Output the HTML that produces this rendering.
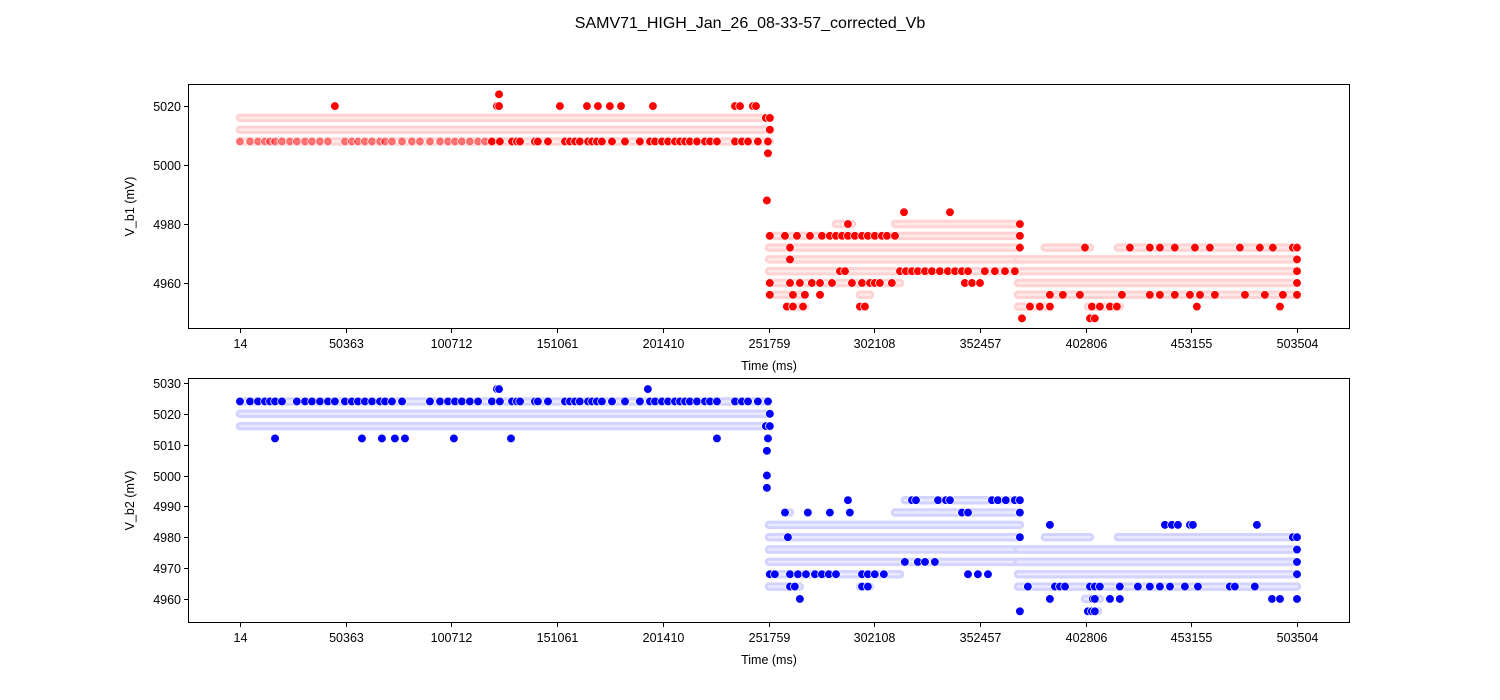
<!DOCTYPE html>
<html><head><meta charset="utf-8">
<style>
body{margin:0;background:#fff;}
svg{display:block;font-family:"Liberation Sans","DejaVu Sans",sans-serif;}
</style></head>
<body>
<svg id="chart" width="1500" height="700" xmlns="http://www.w3.org/2000/svg">
<text x="750" y="28" text-anchor="middle" font-size="16">SAMV71_HIGH_Jan_26_08-33-57_corrected_Vb</text>
</svg>
<script>
// ---- data (time in thousands of ms, voltage in mV) ----
const xTickVals = [14, 50363, 100712, 151061, 201410, 251759, 302108, 352457, 402806, 453155, 503504];
const topYTicks = [4960, 4980, 5000, 5020];
const botYTicks = [4960, 4970, 4980, 4990, 5000, 5010, 5020, 5030];

const redBandLevels = [5016,5012,5008,4980,4980,4976,4972,4968,4964,4960,4956,4956,4952,4952,4972,4972,4968,4964,4960,4956,4952,4952];
const redBandStart  = [0,0,0,283.9,312,252,252,252,252,252,252,295.3,260.5,295.3,383.4,418.2,370.6,370.6,370.6,370.6,370.6,403.9];
const redBandEnd    = [251.5,252.4,252.4,291.5,371.5,371.5,371.5,371.5,371.5,314.4,268.2,300.1,269.1,297.7,404.9,503.5,503.5,503.5,503.5,503.5,385.8,419.1];

const redDotLevels = [5024,5020,5016,5012,5008,5004,4988,4984,4980,4976,4972,4968,4964,4960,4956,4952,4948];
const redDotTimes = [
 [123.4],
 [45.2,122.4,123.4,152.4,165.3,170.5,176.2,181.5,196.7,235.8,238.2,244.3,245.8],
 [250.5,252.4],
 [252.4],
 [0,4.8,8.6,11.9,14.3,16.7,20,23.8,27.1,31,34.3,38.1,41.9,50,53.3,56.2,59.5,62.9,66.7,69.1,72.4,77.2,81.9,85.7,90.5,95.3,99.1,102.4,105.7,109.5,113.4,116.7,120,123.8,129.6,131.9,133.4,140.5,141.9,146.7,154.8,157.2,159.6,161.9,165.8,167.7,170,172.4,177.2,183.4,190.5,195.3,197.7,201,203.9,207.2,209.6,212,214.3,217.7,221.5,223.9,227.2,235.8,239.1,242,246.7,251.5],
 [251.5],
 [251],
 [316.3,338.2],
 [289.6,371.5],
 [252.4,259.6,265.3,271.5,277.2,281,283.9,286.8,289.6,292.9,296.3,299.1,302.4,305.8,308.2,312,371.5],
 [262,371.5,402.5,423.9,433.4,438.2,445.3,454.9,462,476.3,485.8,492,501.5,503.5],
 [262,503.5],
 [285.8,288.2,314.4,317.2,320.1,322.9,326.3,329.6,333.4,337.2,340.6,343.9,346.8,354.8,359.6,364.4,369.1,503.5],
 [252.4,262,266.7,272.4,276.3,282,291.5,296.3,300.1,302.4,304.8,310.5,345.3,348.7,352.5,503.5],
 [252.4,263.4,269.1,276.3,385.8,392,400.1,420.1,433.4,438.2,445.3,452.5,457.3,464.4,478.7,488.2,496.8,503.5],
 [260.5,263.4,268.2,295.3,297.7,376.3,381,385.8,405.8,409.6,414.4,417.7,455.8,495.4],
 [372.5,404.9,407.2]
];

const blueBandLevels = [5024,5020,5016,4992,4988,4988,4984,4980,4976,4972,4968,4964,4964,4980,4980,4976,4972,4968,4964,4960,4956];
const blueBandStart  = [0,0,0,316.7,259.6,312,252,252,252,252,252,252,295.3,383.4,418.2,370.6,370.6,370.6,370.6,402.5,403.9];
const blueBandEnd    = [251.5,252.4,251.5,371.5,262,371.5,371.5,371.5,503.5,503.5,314.4,266.7,300.1,404.9,503.5,503.5,503.5,503.5,503.5,409.6,408.7];

const blueDotLevels = [5028,5024,5020,5016,5012,5008,5000,4996,4992,4988,4984,4980,4976,4972,4968,4964,4960,4956];
const blueDotTimes = [
 [122.4,123.4,194.3],
 [0,4.8,8.6,11.9,14.3,16.7,20,27.1,31,34.3,38.1,41.9,45.2,50,53.3,56.2,59.5,62.9,66.7,69.1,72.4,77.2,90.5,95.3,99.1,102.4,105.7,109.5,113.4,120,123.8,129.6,131.9,133.4,140.5,141.9,146.7,154.8,157.2,159.6,161.9,165.8,167.7,170,172.4,177.2,183.4,190.5,195.3,197.7,201,203.9,207.2,209.6,212,214.3,217.7,221.5,223.9,227.2,235.8,239.1,242,246.7,251.5],
 [252.4],
 [250.5,252.4],
 [16.7,58.1,67.6,73.8,78.6,101.9,129.1,227.2,251.5],
 [251],
 [251],
 [251],
 [289.6,320.1,322,332.5,336.3,338.2,358.2,361,364.8,369.1,371.5],
 [259.6,270.5,281,290.5,343.9,346.8,371.5],
 [385.8,440.6,443.9,446.8,452.5,453.9,484.4],
 [261,371.5,501.5,503.5],
 [503.5],
 [316.7,322.9,326.3,331,503.5],
 [252.4,254.8,262,265.8,269.6,273.9,277.2,280.5,283.9,296.3,299.1,302.4,306.7,346.8,351.5,356.3,503.5],
 [262,264.3,296.3,299.1,375.3,388.2,390.6,393,404.9,407.2,409.6,419.1,427.7,433.4,438.2,443,450.1,456.3,471.5,473.9,483.4],
 [266.7,385.8,406.3,407.2,414.4,419.1,491.6,495.4,503.5],
 [371.5,403.9,405.8,407.2]
];

// ---- rendering ----
const NS = "http://www.w3.org/2000/svg";
const svg = document.getElementById('chart');
function mk(tag, attrs, parent){ const e=document.createElementNS(NS,tag); for(const k in attrs) e.setAttribute(k,attrs[k]); (parent||svg).appendChild(e); return e; }
const X0=188, X1=1350;
function xScale(ms){ return 240 + (ms-14)/(503504-14)*1057; }

function panel(cfg){
  const g = mk('g',{});
  
  
  const y = v => cfg.top + (cfg.ymax - v)/(cfg.ymax - cfg.ymin)*(cfg.bottom-cfg.top);
  const clipId = cfg.name+'-clip';
  const cp = mk('clipPath',{id:clipId},g); mk('rect',{x:X0,y:cfg.top,width:X1-X0,height:cfg.bottom-cfg.top},cp);
  const plot = mk('g',{'clip-path':'url(#'+clipId+')'},g);
  for(let i=0;i<cfg.bandLevels.length;i++){
    const x1=xScale(cfg.bandStart[i]*1000), x2=xScale(cfg.bandEnd[i]*1000), yy=y(cfg.bandLevels[i]);
    const b = mk('line',{x1:x1,x2:x2,y1:yy,y2:yy,stroke:cfg.band,'stroke-width':8.5,'stroke-linecap':'round'},plot);
    
    
    mk('line',{x1:x1,x2:x2,y1:yy,y2:yy,stroke:cfg.bandInner,'stroke-width':2.5,'stroke-linecap':'round'},plot);
  }
  for(let i=0;i<cfg.dotLevels.length;i++){
    cfg.dotTimes[i].forEach(t=>{
      const faint = cfg.faintLevel===cfg.dotLevels[i] && t<cfg.faintBefore;
      const c = mk('circle',{cx:xScale(t*1000),cy:y(cfg.dotLevels[i]),r:4.3,fill:cfg.color,'fill-opacity':faint?0.5:1,stroke:'#fff','stroke-width':0.7},plot);
      
      
    });
  }
  const frame = mk('rect',{x:X0+0.5,y:cfg.top+0.5,width:X1-X0-1,height:cfg.bottom-cfg.top-1,fill:'none',stroke:'#000','stroke-width':1},g);
  
  
  xTickVals.forEach(v=>{
    const xx=Math.round(xScale(v))+0.5;
    mk('line',{x1:xx,x2:xx,y1:cfg.bottom,y2:cfg.bottom+4,stroke:'#000'},g);
    const t=mk('text',{x:xx,y:cfg.bottom+19,'text-anchor':'middle','font-size':12.5},g); t.textContent=v;
    
    
  });
  cfg.yTicks.forEach(v=>{
    const yy=Math.round(y(v))+0.5;
    mk('line',{x1:X0-4,x2:X0,y1:yy,y2:yy,stroke:'#000'},g);
    const t=mk('text',{x:X0-7,y:yy+4.5,'text-anchor':'end','font-size':12.5},g); t.textContent=v;
    
    
  });
  const xl=mk('text',{x:769,y:cfg.bottom+41,'text-anchor':'middle','font-size':12.5},g); xl.textContent='Time (ms)';
  
  
  const cy=(cfg.top+cfg.bottom)/2;
  const yl=mk('text',{x:134,y:cy,'text-anchor':'middle','font-size':12.5,transform:'rotate(-90 134 '+cy+')'},g); yl.textContent=cfg.ylabel;
  
  
}

panel({name:'vb1-panel',top:84,bottom:329,ymax:5027.5,ymin:4944.4,yTicks:topYTicks,ylabel:'V_b1 (mV)',faintLevel:5008,faintBefore:119,
  color:'#ff0000',band:'#ffd3d3',bandInner:'#ffe9e9',bandLevels:redBandLevels,bandStart:redBandStart,bandEnd:redBandEnd,dotLevels:redDotLevels,dotTimes:redDotTimes});
panel({name:'vb2-panel',top:378,bottom:623,ymax:5031.6,ymin:4952.2,yTicks:botYTicks,ylabel:'V_b2 (mV)',faintLevel:null,faintBefore:0,
  color:'#0000ff',band:'#d3d3ff',bandInner:'#e9e9ff',bandLevels:blueBandLevels,bandStart:blueBandStart,bandEnd:blueBandEnd,dotLevels:blueDotLevels,dotTimes:blueDotTimes});
</script>
</body></html>
